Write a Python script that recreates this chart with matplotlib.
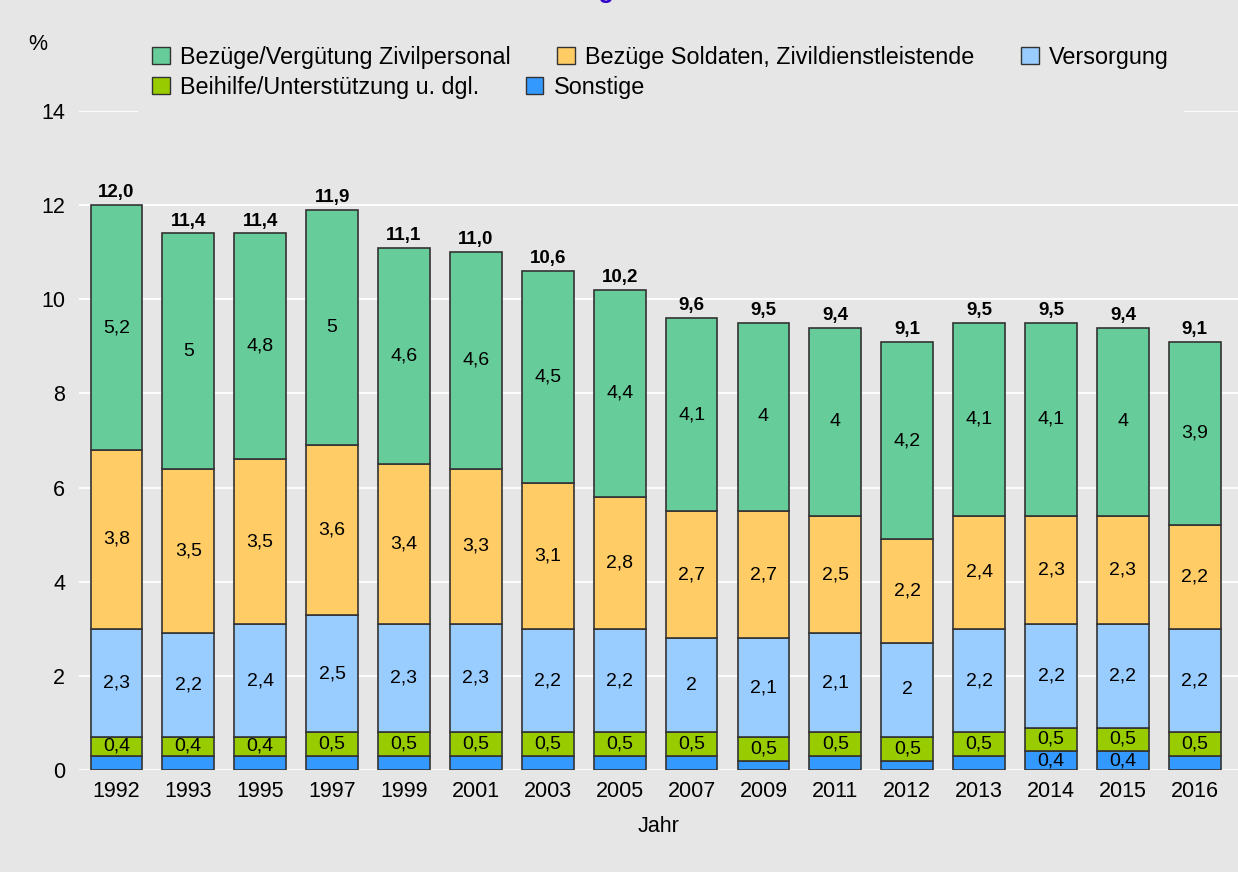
import numpy as np
import matplotlib
matplotlib.use("Agg")
import matplotlib.pyplot as plt
from matplotlib.patches import Rectangle, Patch

plt.rcParams['font.family'] = ['Liberation Sans', 'DejaVu Sans']

jahre = ['1992', '1993', '1995', '1997', '1999', '2001', '2003', '2005',
         '2007', '2009', '2011', '2012', '2013', '2014', '2015', '2016']
sonstige = [0.3, 0.3, 0.3, 0.3, 0.3, 0.3, 0.3, 0.3, 0.3, 0.2, 0.3, 0.2, 0.3, 0.4, 0.4, 0.3]
beihilfe = [0.4, 0.4, 0.4, 0.5, 0.5, 0.5, 0.5, 0.5, 0.5, 0.5, 0.5, 0.5, 0.5, 0.5, 0.5, 0.5]
versorgung = [2.3, 2.2, 2.4, 2.5, 2.3, 2.3, 2.2, 2.2, 2.0, 2.1, 2.1, 2.0, 2.2, 2.2, 2.2, 2.2]
soldaten = [3.8, 3.5, 3.5, 3.6, 3.4, 3.3, 3.1, 2.8, 2.7, 2.7, 2.5, 2.2, 2.4, 2.3, 2.3, 2.2]
zivil = [5.2, 5.0, 4.8, 5.0, 4.6, 4.6, 4.5, 4.4, 4.1, 4.0, 4.0, 4.2, 4.1, 4.1, 4.0, 3.9]

bg = '#e6e6e6'
W, H = 1238, 872
fig = plt.figure(figsize=(W / 100, H / 100), dpi=100, facecolor=bg)
ax = fig.add_axes([79 / W, (H - 770) / H, (W - 79) / W, (770 - 111) / H])
ax.set_facecolor(bg)

serien = [
    (sonstige, '#3399ff', 'Sonstige'),
    (beihilfe, '#99cc00', 'Beihilfe/Unterstützung u. dgl.'),
    (versorgung, '#99ccff', 'Versorgung'),
    (soldaten, '#ffcc66', 'Bezüge Soldaten, Zivildienstleistende'),
    (zivil, '#66cc99', 'Bezüge/Vergütung Zivilpersonal'),
]

x = np.arange(len(jahre))
unten = np.zeros(len(jahre))
for werte, farbe, name in serien:
    werte = np.array(werte)
    ax.bar(x, werte, bottom=unten, width=0.72, color=farbe, edgecolor='#333333',
           linewidth=1.2, zorder=3)
    for xi, b, v in zip(x, unten, werte):
        if v >= 0.35:
            ax.text(xi, b + v / 2, f"{v:g}".replace('.', ','), ha='center', va='center',
                    fontsize=14, color='black', zorder=4)
    unten = unten + werte

for xi, t in zip(x, unten):
    ax.text(xi, t + 0.08, f"{t:.1f}".replace('.', ','), ha='center', va='bottom',
            fontsize=13.5, fontweight='bold', zorder=4)

ax.set_xlim(-0.52, 15.6)
ax.set_ylim(0, 14)
ax.set_yticks(range(0, 15, 2))
ax.set_xticks(x)
ax.set_xticklabels(jahre)
ax.tick_params(length=0, labelsize=15.5, pad=8)
ax.tick_params(axis='y', pad=10)
ax.grid(axis='y', color='white', linewidth=1.3, zorder=0)
for s in ax.spines.values():
    s.set_visible(False)
ax.set_xlabel('Jahr', fontsize=15.5, labelpad=10)

fig.text(38 / W, 1 - 45 / H, '%', fontsize=15.5, ha='center', va='center')
# Titel liegt im Original oberhalb des Bildrands, nur die Unterlänge ist sichtbar
fig.text(562 / W, 1.0 + 2 / H, 'Personalausgaben', fontsize=18, fontweight='bold',
         color='#3300cc', ha='center', va='baseline')

# Hintergrund hinter der Legende verdeckt die Gitterlinie bei 14
fig.patches.append(Rectangle((138 / W, 1 - 122 / H), (1184 - 138) / W, 95 / H,
                             transform=fig.transFigure, facecolor=bg, edgecolor='none',
                             zorder=1))

lk = dict(frameon=False, fontsize=16.8, handlelength=0.75, handleheight=0.75,
          handletextpad=0.45, columnspacing=2.0, borderpad=0, borderaxespad=0)
zeile1 = [serien[4], serien[3], serien[2]]
zeile2 = [serien[1], serien[0]]
h1 = [Patch(facecolor=c, edgecolor='#333333', label=n) for _, c, n in zeile1]
h2 = [Patch(facecolor=c, edgecolor='#333333', label=n) for _, c, n in zeile2]
leg1 = fig.legend(handles=h1, ncol=3, loc='upper left', bbox_to_anchor=(152 / W, 1 - 46 / H), **lk)
leg1.set_zorder(2)
leg2 = fig.legend(handles=h2, ncol=2, loc='upper left', bbox_to_anchor=(152 / W, 1 - 76 / H), **lk)
leg2.set_zorder(2)

fig.savefig('out.png', dpi=100, facecolor=bg)
